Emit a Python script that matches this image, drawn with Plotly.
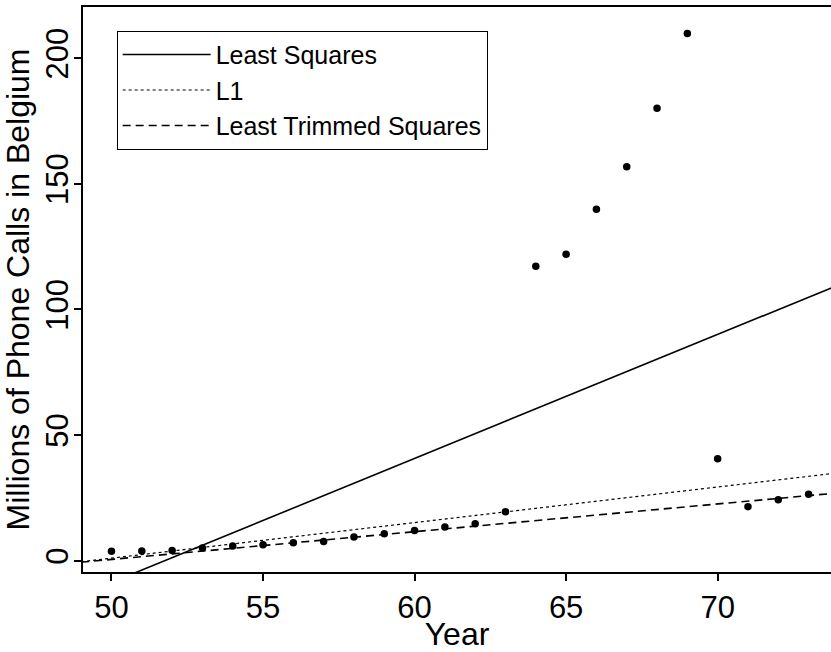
import plotly.graph_objects as go

# Data
years = list(range(50, 74))
calls = [3.8, 3.9, 4.1, 5.1, 5.8, 6.3, 7.1, 7.6, 9.4, 10.7, 12.0, 13.4, 14.7, 19.5,
         117.2, 122.0, 139.9, 156.8, 180.1, 209.9, 40.6, 21.5, 24.3, 26.4]

# fitted lines: values at the two ends of the year span
fit_years = [49.0, 74.0]
ls_fit = [-13.6, 109.8]
l1_fit = [-0.4, 35.0]
lts_fit = [-0.6, 27.0]

x_ticks = [50, 55, 60, 65, 70]
y_ticks = [0, 50, 100, 150, 200]

FONT = "Liberation Sans, Arial, Helvetica, sans-serif"

fig = go.Figure()
fig.add_trace(go.Scatter(x=years, y=calls, mode="markers",
                         marker=dict(color="black", size=7.5),
                         showlegend=False, hoverinfo="x+y"))
fig.add_trace(go.Scatter(x=fit_years, y=ls_fit, mode="lines", name="Least Squares",
                         line=dict(color="black", width=1.6)))
fig.add_trace(go.Scatter(x=fit_years, y=l1_fit, mode="lines", name="L1",
                         line=dict(color="black", width=1.2, dash="dot")))
fig.add_trace(go.Scatter(x=fit_years, y=lts_fit, mode="lines", name="Least Trimmed Squares",
                         line=dict(color="black", width=1.6, dash="8px,5px")))

fig.update_layout(
    width=831, height=652,
    margin=dict(l=83, r=0, t=7, b=80),
    paper_bgcolor="white", plot_bgcolor="white",
    font=dict(family=FONT, color="black", size=31),
    legend=dict(x=0.045, y=0.958, xanchor="left", yanchor="top",
                bgcolor="white", bordercolor="black", borderwidth=1,
                font=dict(size=25), itemwidth=88),
    xaxis=dict(range=[49.06, 73.74], tickvals=x_ticks, ticks="outside", ticklen=7,
               tickwidth=1.5, tickcolor="black", showline=True, linecolor="black",
               linewidth=2, mirror=True, showgrid=False, zeroline=False,
               tickfont=dict(size=31),
               title=dict(text="Year", font=dict(size=32), standoff=0)),
    yaxis=dict(range=[-4.5, 220.4], tickvals=y_ticks, ticks="outside", ticklen=7,
               tickwidth=1.5, tickcolor="black", showline=True, linecolor="black",
               linewidth=2, showgrid=False, zeroline=False, tickangle=-90,
               tickfont=dict(size=31), ticklabelstandoff=-6,
               title=dict(text="Millions of Phone Calls in Belgium", font=dict(size=32), standoff=0)),
)

fig.write_html("out.html", config={"displayModeBar": False},
               post_script="document.body.style.margin='0';document.body.style.overflow='hidden';")
